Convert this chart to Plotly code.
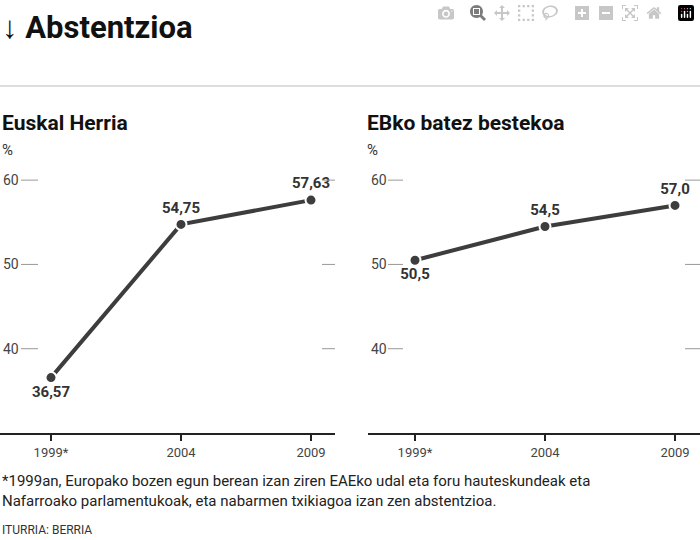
import plotly.graph_objects as go

years = ["1999*", "2004", "2009"]
eh_values = [36.57, 54.75, 57.63]
eh_labels = ["36,57", "54,75", "57,63"]
eb_values = [50.5, 54.5, 57.0]
eb_labels = ["50,5", "54,5", "57,0"]
y_ticks = [40, 50, 60]

W, H = 700, 540
def py(p): return 1 - p / H

fig = go.Figure()
F = "Roboto"
dark = "#3d3d3d"
fig.add_trace(go.Scatter(x=[0, 1, 2], y=eh_values, mode="lines+markers+text",
    text=eh_labels, textposition=["bottom center", "top center", "top center"],
    textfont=dict(family=F, size=15, color="#333", weight="bold"),
    line=dict(color=dark, width=4),
    marker=dict(size=11, color=dark, line=dict(color="white", width=2)),
    xaxis="x", yaxis="y", cliponaxis=False, showlegend=False))
fig.add_trace(go.Scatter(x=[0, 1, 2], y=eb_values, mode="lines+markers+text",
    text=eb_labels, textposition=["bottom center", "top center", "top center"],
    textfont=dict(family=F, size=15, color="#333", weight="bold"),
    line=dict(color=dark, width=4),
    marker=dict(size=11, color=dark, line=dict(color="white", width=2)),
    xaxis="x2", yaxis="y2", cliponaxis=False, showlegend=False))

ydom = [py(433), py(138)]
xcommon = dict(tickmode="array", tickvals=[0, 1, 2], ticktext=years, showline=True,
               linecolor="#222", linewidth=2, ticks="outside", ticklen=6, tickwidth=2,
               tickcolor="#222", showgrid=False, zeroline=False,
               tickfont=dict(family=F, size=13, color="#444"))
ycommon = dict(range=[30, 65], tickvals=y_ticks, showgrid=False, zeroline=False,
               ticklabelposition="inside", ticks="", showline=False,
               tickfont=dict(family=F, size=14, color="#444"))
fig.update_layout(
    width=W, height=H, margin=dict(l=0, r=0, t=0, b=0),
    plot_bgcolor="white", paper_bgcolor="white",
    xaxis=dict(domain=[0, 335 / W], range=[-51 / 130, 284 / 130], anchor="y", **xcommon),
    yaxis=dict(domain=ydom, anchor="x", **ycommon),
    xaxis2=dict(domain=[368 / W, 1], range=[-47 / 130, 285 / 130], anchor="y2", **xcommon),
    yaxis2=dict(domain=ydom, anchor="x2", **ycommon),
)
shapes = []
for xr, yr, x0, x1, r0, r1 in [("x", "y", 21, 38, 322, 335), ("x2", "y2", 388, 403, 685, 700)]:
    for v in y_ticks:
        for a, b in [(x0, x1), (r0, r1)]:
            shapes.append(dict(type="line", xref="paper", yref=yr, x0=a / W, x1=b / W,
                               y0=v, y1=v, line=dict(color="#999", width=1)))
shapes.append(dict(type="line", xref="paper", yref="paper", x0=0, x1=1,
                   y0=py(86), y1=py(86), line=dict(color="#bbb", width=1)))
fig.update_layout(shapes=shapes)

ann = [
    dict(x=0, y=py(28), text="<b>↓ Abstentzioa</b>", font=dict(family=F, size=31, color="#111")),
    dict(x=0, y=py(123), text="<b>Euskal Herria</b>", font=dict(family=F, size=21, color="#111")),
    dict(x=365 / W, y=py(123), text="<b>EBko batez bestekoa</b>", font=dict(family=F, size=21, color="#111")),
    dict(x=0, y=py(150), text="%", font=dict(family=F, size=15, color="#333")),
    dict(x=365 / W, y=py(150), text="%", font=dict(family=F, size=15, color="#333")),
    dict(x=0, y=py(491), text="*1999an, Europako bozen egun berean izan ziren EAEko udal eta foru hauteskundeak eta<br>Nafarroako parlamentukoak, eta nabarmen txikiagoa izan zen abstentzioa.",
         font=dict(family=F, size=15, color="#222"), align="left"),
    dict(x=0, y=py(530), text="ITURRIA: BERRIA", font=dict(family=F, size=12, color="#333")),
]
fig.update_layout(annotations=[dict(xref="paper", yref="paper", xanchor="left", yanchor="middle",
                                    showarrow=False, **a) for a in ann])
fig.write_html("out.html", post_script="document.body.style.margin='0';document.body.style.overflow='hidden';")
